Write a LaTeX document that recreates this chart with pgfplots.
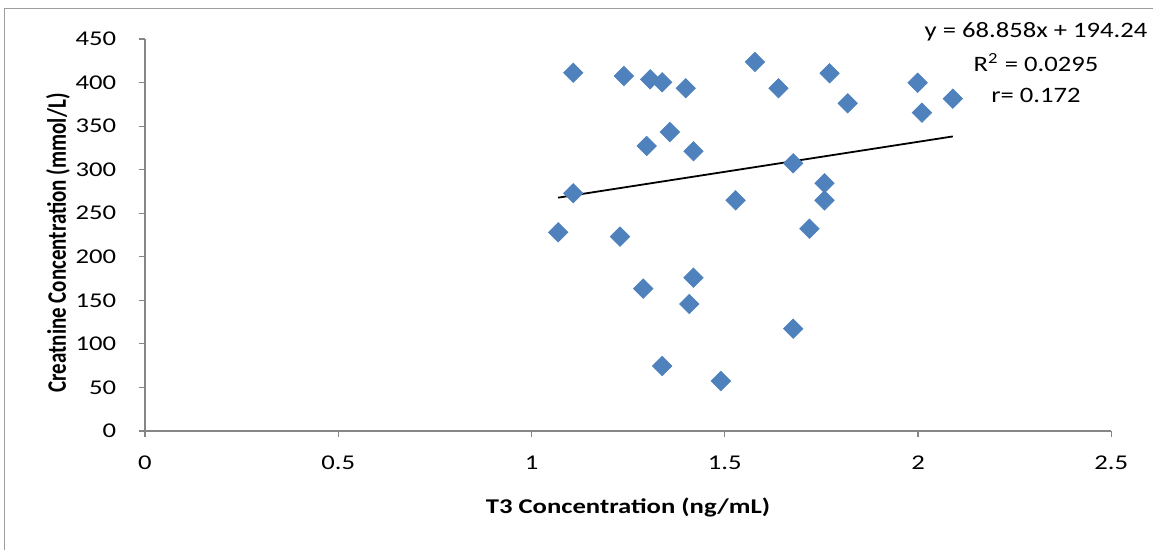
\documentclass[border=0pt]{standalone}
\usepackage{pgfplots}
\pgfplotsset{compat=1.18}
\usepackage{fontspec}
\setmainfont{Carlito}
\definecolor{ptblue}{HTML}{4F81BD}
\definecolor{axgray}{HTML}{868686}
\begin{document}
\begin{tikzpicture}
\useasboundingbox (0,0) rectangle (576.5pt,275pt);
\draw[color=axgray!80, line width=0.6pt] (2.4pt,-20pt) -- (2.4pt,270.9pt) -- (600pt,270.9pt);
\begin{axis}[
  at={(72.5pt,59.5pt)}, anchor=south west,
  scale only axis, width=483.15pt, height=196pt,
  xmin=0, xmax=2.5, ymin=0, ymax=450,
  axis x line=bottom, axis y line=left,
  axis line style={-, color=axgray, line width=0.6pt},
  xtick={0,0.5,1,1.5,2,2.5}, xticklabels={0,0.5,1,1.5,2,2.5},
  ytick={0,50,...,450},
  tick align=outside, major tick length=3pt,
  tick style={color=axgray, line width=0.6pt},
  /pgf/number format/assume math mode=true,
  tick label style={font=\fontsize{10.5}{12}\selectfont, text=black, xscale=1.27},
  yticklabel style={xshift=-5.5pt},
  xticklabel style={yshift=-6pt},
  clip=false,
]
\addplot[only marks, mark=square*, mark size=3.4pt, mark options={rotate=45, fill=ptblue, draw=ptblue}] coordinates {
(1.108,411.3) (1.239,407.5) (1.307,403.7) (1.338,400.3) (1.399,393.4)
(1.578,423.6) (1.639,393.4) (1.771,410.6) (1.818,376.2) (1.999,399.8)
(2.010,365.4) (2.090,381.5) (1.358,343.2) (1.298,327.2) (1.419,321.1)
(1.677,307.3) (1.108,272.9) (1.528,264.8) (1.758,284.4) (1.758,264.8)
(1.069,228.1) (1.229,223.1) (1.719,232.2) (1.419,176.0) (1.289,163.4)
(1.408,145.8) (1.677,117.4) (1.338,74.6) (1.490,57.4)
};
\addplot[black, line width=0.9pt] coordinates {(1.069,267.85) (2.090,338.15)};
\end{axis}
\node[font=\fontsize{10.5}{12}\selectfont\bfseries, xscale=1.27, rotate=90] at (29pt,153.5pt) {Creatnine Concentration (mmol/L)};
\node[font=\fontsize{10.5}{12}\selectfont\bfseries, xscale=1.27] at (314pt,21.5pt) {T3 Concentration (ng/mL)};
\node[font=\fontsize{11}{13}\selectfont, xscale=1.21] at (518pt,259pt) {y = 68.858x + 194.24};
\node[font=\fontsize{11}{13}\selectfont, xscale=1.21] at (518pt,243.5pt) {R\textsuperscript{2} = 0.0295};
\node[font=\fontsize{11}{13}\selectfont, xscale=1.21] at (518pt,227.5pt) {r= 0.172};
\end{tikzpicture}
\end{document}
